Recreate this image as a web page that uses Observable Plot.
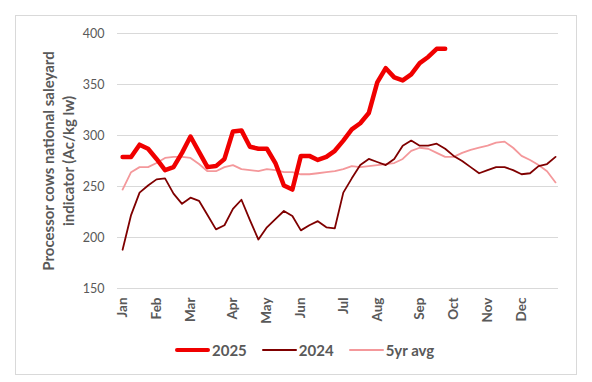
<!DOCTYPE html>
<html>
<head>
<meta charset="utf-8">
<script src="https://cdn.jsdelivr.net/npm/d3@7"></script>
<script src="https://cdn.jsdelivr.net/npm/@observablehq/plot@0.6"></script>
<style>
  html, body { margin: 0; padding: 0; background: #fff; }
  body { width: 592px; height: 382px; position: relative; overflow: hidden; font-family: Lato, "Open Sans", sans-serif; }
  #frame { position: absolute; left: 15px; top: 15px; width: 560px; height: 358px; border: 1px solid #d9d9d9; box-sizing: content-box; z-index: 5; pointer-events: none; }
  #chart { position: absolute; left: 0; top: 0; z-index: 1; }
  #legend { position: absolute; left: 175px; top: 341px; display: flex; align-items: center; font-size: 15px; font-weight: bold; color: #595959; z-index: 2; }
  .item { display: flex; align-items: center; margin-right: 15px; }
  .sw { width: 35px; margin-right: 2px; border-radius: 2px; }
</style>
</head>
<body>
<div id="chart"></div>
<div id="legend"></div>
<div id="frame"></div>
<script>
const months = ["Jan","Feb","Mar","Apr","May","Jun","Jul","Aug","Sep","Oct","Nov","Dec"];
const monthWeeks = [0,4,8,13,17,21,26,30,35,39,43,47];
const yTicks = [150,200,250,300,350,400];
const seriesNames = ["2025","2024","5yr avg"];
const seriesColors = ["#f00000","#7f0000","#f4989b"];
const seriesWidths = [4.5,1.8,1.8];

const v2025 = [279,279,291,287,277,266,269,283,299,284,269,270,277,304,305,289,287,287,273,251,247,280,280,276,279,285,295,306,312,322,352,366,357,354,360,371,377,385,385];
const v2024 = [188,222,244,251,257,258,243,233,239,236,222,208,212,228,237,217,198,210,218,226,221,207,212,216,210,209,244,258,271,277,274,271,277,290,295,290,290,292,287,280,275,269,263,266,269,269,266,262,263,270,272,279];
const vAvg = [247,264,269,269,273,278,279,279,278,272,265,265,269,271,267,266,265,267,266,264,264,262,262,263,264,265,267,270,269,270,271,272,273,277,285,288,287,283,279,279,283,286,288,290,293,294,288,280,276,271,265,254];

const yTitle = "Processor cows national saleyard\nindicator (Ac/kg lw)";

const toRows = (vals, name) => vals.map((v, i) => ({week: i, value: v, series: name}));
const rows2025 = toRows(v2025, seriesNames[0]);
const rows2024 = toRows(v2024, seriesNames[1]);
const rowsAvg = toRows(vAvg, seriesNames[2]);

const chart = Plot.plot({
  width: 592,
  height: 330,
  marginLeft: 117,
  marginRight: 34,
  marginTop: 33,
  marginBottom: 42,
  style: {fontFamily: "Lato, 'Open Sans', sans-serif", background: "transparent", overflow: "visible"},
  x: {domain: [-0.6, 51.35]},
  y: {domain: [150, 400]},
  marks: [
    Plot.ruleY(yTicks, {stroke: "#d9d9d9", strokeWidth: 1}),
    Plot.axisY({ticks: yTicks, tickSize: 0, tickPadding: 13, fontSize: 12.5, fill: "#595959", label: null}),
    Plot.axisX({ticks: monthWeeks, tickFormat: i => months[monthWeeks.indexOf(i)], tickSize: 0, tickPadding: 9, tickRotate: -90, fontSize: 13.5, fontWeight: "bold", fill: "#595959", label: null}),
    Plot.text([yTitle], {frameAnchor: "left", dx: -60, rotate: -90, textAnchor: "middle", lineAnchor: "middle", fontSize: 15, fontWeight: "bold", fill: "#595959", lineHeight: 1.33}),
    Plot.line(rowsAvg, {x: "week", y: "value", stroke: seriesColors[2], strokeWidth: seriesWidths[2], strokeLinejoin: "round"}),
    Plot.line(rows2024, {x: "week", y: "value", stroke: seriesColors[1], strokeWidth: seriesWidths[1], strokeLinejoin: "round"}),
    Plot.line(rows2025, {x: "week", y: "value", stroke: seriesColors[0], strokeWidth: seriesWidths[0], strokeLinejoin: "round"})
  ]
});
document.getElementById("chart").appendChild(chart);

const legend = document.getElementById("legend");
seriesNames.forEach((n, i) => {
  const item = document.createElement("div");
  item.className = "item";
  const sw = document.createElement("span");
  sw.className = "sw";
  sw.style.height = seriesWidths[i] + "px";
  sw.style.background = seriesColors[i];
  const t = document.createElement("span");
  t.textContent = n;
  item.appendChild(sw);
  item.appendChild(t);
  legend.appendChild(item);
});
</script>
</body>
</html>
